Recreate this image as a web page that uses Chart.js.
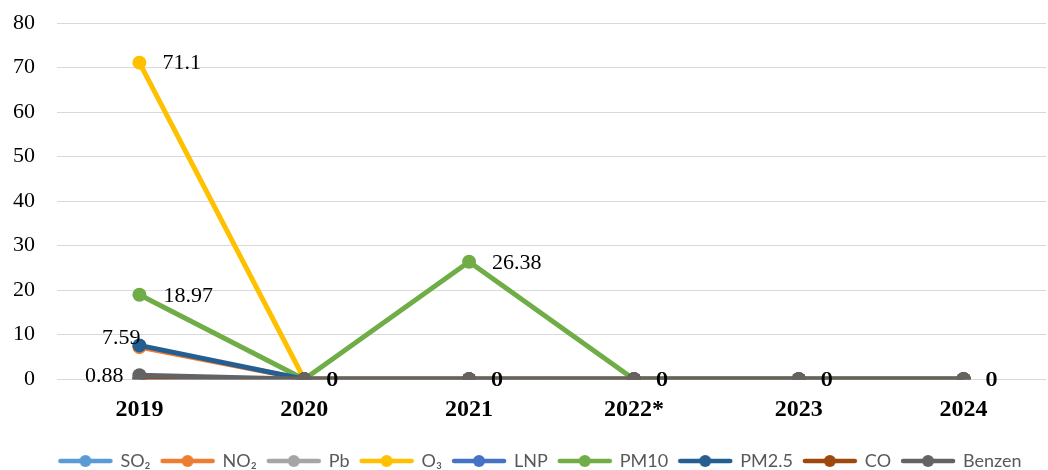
<!DOCTYPE html>
<html>
<head>
<meta charset="utf-8">
<script src="https://cdn.jsdelivr.net/npm/chart.js@4"></script>
<style>
html,body{margin:0;padding:0;background:#fff;overflow:hidden;}
#wrap{width:1048px;height:470px;position:relative;overflow:hidden;}
</style>
</head>
<body>
<div id="wrap"><canvas id="c" width="1053" height="470"></canvas></div>
<script>
const years = ['2019', '2020', '2021', '2022*', '2023', '2024'];
const seriesNames = ['SO\u2082', 'NO\u2082', 'Pb', 'O\u2083', 'LNP', 'PM10', 'PM2.5', 'CO', 'Benzen'];
const so2 = [0, 0, 0, 0, 0, 0];
const no2 = [7.2, 0, 0, 0, 0, 0];
const pb = [0, 0, 0, 0, 0, 0];
const o3 = [71.1, 0, 0, 0, 0, 0];
const lnp = [0, 0, 0, 0, 0, 0];
const pm10 = [18.97, 0, 26.38, 0, 0, 0];
const pm25 = [7.59, 0, 0, 0, 0, 0];
const co = [0, 0, 0, 0, 0, 0];
const benzen = [0.88, 0, 0, 0, 0, 0];
const yTicks = [0, 10, 20, 30, 40, 50, 60, 70, 80];

const colors = ['#5B9BD5', '#ED7D31', '#A5A5A5', '#FFC000', '#4472C4', '#70AD47', '#255E91', '#9E480E', '#636363'];
const values = [so2, no2, pb, o3, lnp, pm10, pm25, co, benzen];

function legendMarker(color) {
  const cv = document.createElement('canvas');
  cv.width = 56; cv.height = 14;
  const x = cv.getContext('2d');
  x.strokeStyle = color; x.lineWidth = 4.5; x.lineCap = 'round';
  x.beginPath(); x.moveTo(3, 7); x.lineTo(53, 7); x.stroke();
  x.fillStyle = color;
  x.beginPath(); x.arc(28, 7, 6, 0, Math.PI * 2); x.fill();
  return cv;
}

const datasets = seriesNames.map((n, i) => ({
  label: n,
  data: values[i],
  borderColor: colors[i],
  backgroundColor: colors[i],
  borderWidth: 5,
  pointRadius: 7,
  pointHoverRadius: 7,
  pointBorderWidth: 0,
  pointStyle: 'circle',
  tension: 0,
  order: seriesNames.length - i,
  legendMarker: legendMarker(colors[i])
}));

// which series get value labels and where: [datasetIndex, pointIndex, side, dx]
const labelSpec = [
  [3, 0, 'right', 23], [5, 0, 'right', 24], [5, 2, 'right', 23],
  [6, 0, 'leftUp', 1], [8, 0, 'left', -16],
  [3, 1, 'right', 22], [3, 2, 'right', 22], [3, 3, 'right', 22], [3, 4, 'right', 22], [3, 5, 'right', 22],
  [1, 1, 'right', 23], [1, 2, 'right', 23], [1, 3, 'right', 23], [1, 4, 'right', 23], [1, 5, 'right', 23]
];

const valueLabels = {
  id: 'valueLabels',
  afterDatasetsDraw(chart) {
    const ctx = chart.ctx;
    ctx.save();
    ctx.font = '22px "Liberation Serif", "Times New Roman", serif';
    ctx.fillStyle = '#000';
    ctx.textBaseline = 'middle';
    labelSpec.forEach(([d, p, side, dx]) => {
      const el = chart.getDatasetMeta(d).data[p];
      const v = chart.data.datasets[d].data[p];
      const txt = String(v);
      if (side === 'right') {
        ctx.textAlign = 'left';
        ctx.fillText(txt, el.x + dx, el.y + 1);
      } else if (side === 'left') {
        ctx.textAlign = 'right';
        ctx.fillText(txt, el.x + dx, el.y + 1);
      } else {
        ctx.textAlign = 'right';
        ctx.fillText(txt, el.x + dx, el.y - 7);
      }
    });
    ctx.restore();
  }
};

new Chart(document.getElementById('c'), {
  type: 'line',
  data: { labels: years, datasets },
  options: {
    responsive: false,
    animation: false,
    events: [],
    layout: { padding: { left: 8, right: -20, top: 23, bottom: -10 } },
    plugins: {
      tooltip: { enabled: false },
      legend: {
        position: 'bottom',
        labels: {
          usePointStyle: true,
          pointStyleWidth: 52,
          boxHeight: 14,
          padding: 11,
          color: '#595959',
          font: { family: 'Lato, "Open Sans", sans-serif', size: 18 },
          generateLabels(chart) {
            return chart.data.datasets.map((ds, i) => ({
              text: ds.label,
              fillStyle: ds.borderColor,
              strokeStyle: ds.borderColor,
              fontColor: '#595959',
              pointStyle: ds.legendMarker,
              lineWidth: 0,
              hidden: false,
              datasetIndex: i
            }));
          }
        }
      }
    },
    scales: {
      x: {
        offset: true,
        afterFit(s) { s.height += 1; },
        grid: { display: false, drawTicks: false },
        border: { display: false },
        ticks: {
          padding: 16,
          color: '#000',
          font: { family: '"Liberation Serif", "Times New Roman", serif', size: 24, weight: 'bold' }
        }
      },
      y: {
        min: 0, max: 80,
        afterFit(s) { s.width = 49; },
        afterBuildTicks(s) { s.ticks = yTicks.map(v => ({ value: v })); },
        grid: { color: '#D9D9D9', lineWidth: 1, drawTicks: true, tickLength: 22, tickColor: 'rgba(0,0,0,0)' },
        border: { display: false },
        ticks: {
          padding: 0,
          color: '#000',
          font: { family: '"Liberation Serif", "Times New Roman", serif', size: 22 }
        }
      }
    }
  },
  plugins: [valueLabels]
});
</script>
</body>
</html>
